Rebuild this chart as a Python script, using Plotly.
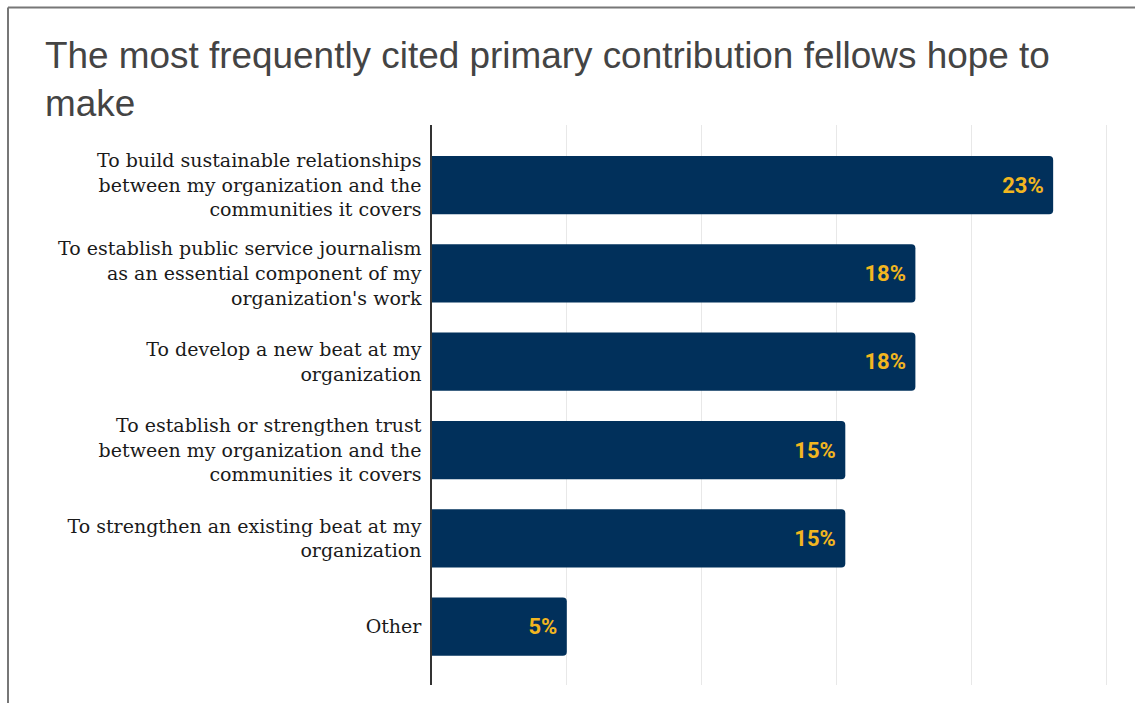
import plotly.graph_objects as go

categories = [
    "To build sustainable relationships<br>between my organization and the<br>communities it covers",
    "To establish public service journalism<br>as an essential component of my<br>organization's work",
    "To develop a new beat at my<br>organization",
    "To establish or strengthen trust<br>between my organization and the<br>communities it covers",
    "To strengthen an existing beat at my<br>organization",
    "Other",
]
values = [0.2304, 0.1793, 0.1793, 0.1533, 0.1533, 0.05]
labels = ["23%", "18%", "18%", "15%", "15%", "5%"]

W, H = 1135, 703
L, R, T, B = 432, 20, 125, 18
XMAX = (W - L - R) / 674 * 0.25

fig = go.Figure(go.Bar(
    x=values, y=categories, orientation="h",
    marker=dict(color="#01305B", line=dict(width=0)),
    width=0.66,
    text=[t + "&nbsp;" for t in labels], textposition="inside", insidetextanchor="end",
    textfont=dict(family="Roboto", size=22, color="#F2B620", weight="bold"),
    cliponaxis=False, hoverinfo="skip",
))

pw = W - L - R
ph = H - T - B
def px2x(px):
    return (px - L) / pw
def py2y(py):
    return (H - B - py) / ph

fig.update_layout(
    width=W, height=H,
    margin=dict(l=L, r=R, t=T, b=B),
    paper_bgcolor="white", plot_bgcolor="white",
    barcornerradius=4,
    showlegend=False,
    title=dict(
        text="The most frequently cited primary contribution fellows hope to<br>make",
        x=45 / W, xanchor="left", xref="container",
        y=1 - 68 / H, yanchor="top", yref="container",
        font=dict(family="Liberation Sans, Arial, sans-serif", size=36.9, color="#444444"),
    ),
    xaxis=dict(
        range=[0, XMAX], dtick=0.05, showticklabels=False,
        showgrid=True, gridcolor="#E8E8E8", gridwidth=1,
        zeroline=False, showline=False, ticks="",
    ),
    yaxis=dict(
        range=[5.66, -0.68],
        showline=True, linecolor="#333333", linewidth=1.5,
        ticks="", ticklabelstandoff=5,
        tickfont=dict(family="DejaVu Serif, serif", size=19, color="#1a1a1a"),
        showgrid=False,
    ),
    shapes=[
        dict(type="line", xref="paper", yref="paper",
             x0=px2x(8), x1=px2x(W + 5), y0=py2y(7.5), y1=py2y(7.5),
             line=dict(color="#777777", width=2)),
        dict(type="line", xref="paper", yref="paper",
             x0=px2x(8), x1=px2x(8), y0=py2y(7.5), y1=py2y(H + 5),
             line=dict(color="#777777", width=2)),
    ],
)

fig.write_html("out.html")
